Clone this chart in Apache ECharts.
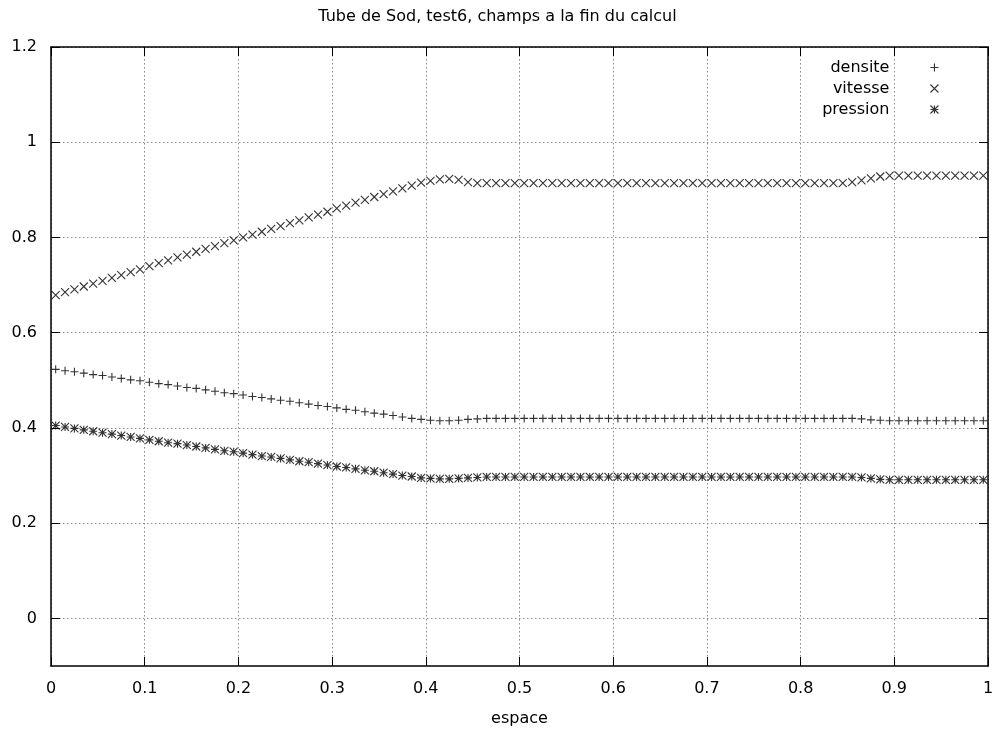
<!DOCTYPE html>
<html>
<head>
<meta charset="utf-8">
<script src="https://cdn.jsdelivr.net/npm/echarts@6/dist/echarts.min.js"></script>
<style>
html,body{margin:0;padding:0;background:#fff;}
#chart{width:995px;height:733px;}
</style>
</head>
<body>
<div id="chart"></div>
<script>
var titleText = 'Tube de Sod, test6, champs a la fin du calcul';
var xAxisName = 'espace';
var seriesNames = ['densite', 'vitesse', 'pression'];
var yTicks = [0, 0.2, 0.4, 0.6, 0.8, 1, 1.2];

var espace = [
0.005,0.015,0.025,0.035,0.045,0.055,0.065,0.075,0.085,0.095,
0.105,0.115,0.125,0.135,0.145,0.155,0.165,0.175,0.185,0.195,
0.205,0.215,0.225,0.235,0.245,0.255,0.265,0.275,0.285,0.295,
0.305,0.315,0.325,0.335,0.345,0.355,0.365,0.375,0.385,0.395,
0.405,0.415,0.425,0.435,0.445,0.455,0.465,0.475,0.485,0.495,
0.505,0.515,0.525,0.535,0.545,0.555,0.565,0.575,0.585,0.595,
0.605,0.615,0.625,0.635,0.645,0.655,0.665,0.675,0.685,0.695,
0.705,0.715,0.725,0.735,0.745,0.755,0.765,0.775,0.785,0.795,
0.805,0.815,0.825,0.835,0.845,0.855,0.865,0.875,0.885,0.895,
0.905,0.915,0.925,0.935,0.945,0.955,0.965,0.975,0.985,0.995
];

var densite = [
0.523,0.520,0.518,0.515,0.512,0.510,0.507,0.504,0.501,0.499,
0.496,0.493,0.491,0.488,0.485,0.483,0.480,0.477,0.474,0.472,
0.469,0.466,0.464,0.461,0.458,0.456,0.453,0.450,0.447,0.445,
0.442,0.439,0.437,0.434,0.431,0.429,0.426,0.423,0.420,0.418,
0.416,0.415,0.415,0.416,0.418,0.419,0.420,0.420,0.420,0.420,
0.420,0.420,0.420,0.420,0.420,0.420,0.420,0.420,0.420,0.420,
0.420,0.420,0.420,0.420,0.420,0.420,0.420,0.420,0.420,0.420,
0.420,0.420,0.420,0.420,0.420,0.420,0.420,0.420,0.420,0.420,
0.420,0.420,0.420,0.420,0.420,0.420,0.419,0.417,0.416,0.415,
0.415,0.415,0.415,0.415,0.415,0.415,0.415,0.415,0.415,0.415
];

var vitesse = [
0.679,0.685,0.691,0.697,0.703,0.709,0.715,0.721,0.727,0.733,
0.740,0.746,0.752,0.758,0.764,0.770,0.776,0.782,0.788,0.794,
0.800,0.806,0.812,0.818,0.824,0.830,0.836,0.842,0.848,0.854,
0.861,0.867,0.873,0.879,0.885,0.891,0.897,0.903,0.909,0.915,
0.919,0.922,0.923,0.921,0.916,0.914,0.914,0.914,0.914,0.914,
0.914,0.914,0.914,0.914,0.914,0.914,0.914,0.914,0.914,0.914,
0.914,0.914,0.914,0.914,0.914,0.914,0.914,0.914,0.914,0.914,
0.914,0.914,0.914,0.914,0.914,0.914,0.914,0.914,0.914,0.914,
0.914,0.914,0.914,0.914,0.914,0.916,0.920,0.924,0.928,0.930,
0.930,0.930,0.930,0.930,0.930,0.930,0.930,0.930,0.930,0.930
];

var pression = [
0.405,0.402,0.399,0.396,0.393,0.390,0.387,0.384,0.381,0.378,
0.375,0.372,0.369,0.367,0.364,0.361,0.358,0.355,0.352,0.350,
0.347,0.344,0.341,0.339,0.336,0.333,0.330,0.328,0.325,0.322,
0.319,0.317,0.314,0.311,0.309,0.306,0.303,0.300,0.298,0.295,
0.294,0.293,0.293,0.294,0.295,0.296,0.297,0.297,0.297,0.297,
0.297,0.297,0.297,0.297,0.297,0.297,0.297,0.297,0.297,0.297,
0.297,0.297,0.297,0.297,0.297,0.297,0.297,0.297,0.297,0.297,
0.297,0.297,0.297,0.297,0.297,0.297,0.297,0.297,0.297,0.297,
0.297,0.297,0.297,0.297,0.297,0.297,0.296,0.294,0.292,0.291,
0.291,0.291,0.291,0.291,0.291,0.291,0.291,0.291,0.291,0.291
];

var symPlus = 'path://M0,5L10,5M5,0L5,10';
var symCross = 'path://M0,0L10,10M10,0L0,10';
var symStar = 'path://M0,5L10,5M5,0L5,10M0,0L10,10M10,0L0,10';

function pairs(ys) {
  var out = [];
  for (var i = 0; i < espace.length; i++) out.push([espace[i], ys[i]]);
  return out;
}

var FONT = 'DejaVu Sans';
var gridLine = { show: true, lineStyle: { color: '#8a8a8a', width: 1, type: [1.5, 2.5] } };

function scatter(name, ys, sym) {
  return {
    name: name, type: 'scatter', data: pairs(ys), symbol: sym, symbolSize: 8,
    itemStyle: { color: 'transparent', borderColor: '#000', borderWidth: 1.1 },
    emphasis: { disabled: true }, silent: true, xAxisIndex: 0, yAxisIndex: 0
  };
}

var chart = echarts.init(document.getElementById('chart'), null, { renderer: 'canvas' });
chart.setOption({
  animation: false,
  backgroundColor: '#fff',
  textStyle: { fontFamily: FONT, color: '#000' },
  title: {
    text: titleText, left: 'center', top: 9, padding: 0,
    textStyle: { fontFamily: FONT, fontSize: 16, fontWeight: 'normal', color: '#000' }
  },
  legend: {
    orient: 'vertical', align: 'right', right: 56, top: 57, padding: 0,
    itemWidth: 80, itemHeight: 8, itemGap: 0,
    selectedMode: false,
    textStyle: { fontFamily: FONT, fontSize: 16, color: '#000', lineHeight: 21 },
    data: [
      { name: seriesNames[0], icon: symPlus },
      { name: seriesNames[1], icon: symCross },
      { name: seriesNames[2], icon: symStar }
    ],
    itemStyle: { color: 'transparent', borderColor: '#000', borderWidth: 1.1 }
  },
  grid: { left: 51, right: 7, top: 47, bottom: 67, containLabel: false, outerBoundsMode: 'none' },
  xAxis: [{
    type: 'value', min: 0, max: 1, interval: 0.1, position: 'bottom',
    name: xAxisName, nameLocation: 'middle', nameGap: 45,
    nameTextStyle: { fontFamily: FONT, fontSize: 16, color: '#000' },
    axisLine: { show: true, onZero: false, lineStyle: { color: '#000', width: 1.5 } },
    axisTick: { show: true, inside: true, length: 9, lineStyle: { color: '#000', width: 1 } },
    axisLabel: { show: true, margin: 15, fontFamily: FONT, fontSize: 16, color: '#000', showMinLabel: true, showMaxLabel: true, hideOverlap: false },
    splitLine: gridLine
  }, {
    type: 'value', min: 0, max: 1, interval: 0.1, position: 'top',
    axisLine: { show: true, onZero: false, lineStyle: { color: '#000', width: 1.5 } },
    axisTick: { show: true, inside: true, length: 9, lineStyle: { color: '#000', width: 1 } },
    axisLabel: { show: false }, splitLine: { show: false }
  }],
  yAxis: [{
    type: 'value', min: -0.1, max: 1.2, position: 'left',
    axisLine: { show: true, onZero: false, lineStyle: { color: '#000', width: 1.5 } },
    axisTick: { show: true, inside: true, length: 9, customValues: yTicks, lineStyle: { color: '#000', width: 1 } },
    axisLabel: { show: true, margin: 14, customValues: yTicks, fontFamily: FONT, fontSize: 16, color: '#000', hideOverlap: false },
    splitLine: gridLine
  }, {
    type: 'value', min: -0.1, max: 1.2, position: 'right',
    axisLine: { show: true, onZero: false, lineStyle: { color: '#000', width: 1.5 } },
    axisTick: { show: true, inside: true, length: 9, customValues: yTicks, lineStyle: { color: '#000', width: 1 } },
    axisLabel: { show: false }, splitLine: { show: false }
  }],
  series: [
    scatter(seriesNames[0], densite, symPlus),
    scatter(seriesNames[1], vitesse, symCross),
    scatter(seriesNames[2], pression, symStar)
  ]
});
</script>
</body>
</html>
